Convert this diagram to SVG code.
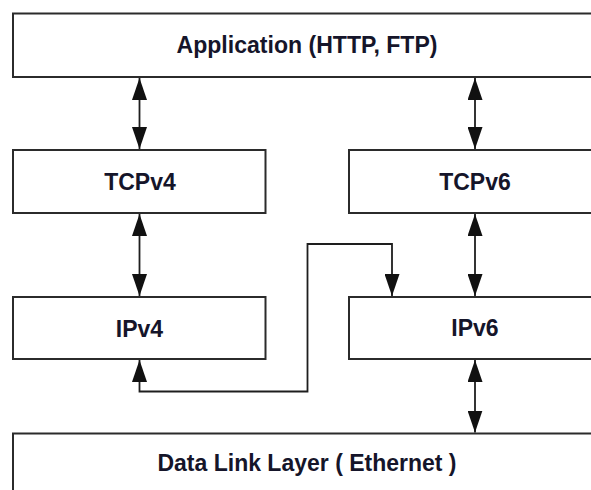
<svg xmlns="http://www.w3.org/2000/svg" width="591" height="490" viewBox="0 0 591 490">
  <defs>
    <style>
      .box { fill: #ffffff; stroke: #2b2b2b; stroke-width: 2; }
      .label { font-family: "Liberation Sans", Arial, sans-serif; font-weight: bold; font-size: 23px; fill: #15152a; text-anchor: middle; }
      .link { fill: none; stroke: #1e1e1e; stroke-width: 1.8; }
    </style>
    <marker id="arrow" viewBox="0 0 22 15" refX="22" refY="7.5" markerWidth="22" markerHeight="15" markerUnits="userSpaceOnUse" orient="auto-start-reverse">
      <path d="M0,0 L22,7.5 L0,15 z" fill="#111111"/>
    </marker>
  </defs>

  <rect width="591" height="490" fill="#ffffff"/>

  <!-- Layer boxes -->
  <g id="application">
    <rect class="box" x="13" y="13.5" width="600" height="63.5"/>
    <text class="label" x="307" y="53" textLength="261" lengthAdjust="spacingAndGlyphs">Application (HTTP, FTP)</text>
  </g>
  <g id="tcpv4">
    <rect class="box" x="13" y="150" width="252.5" height="63"/>
    <text class="label" x="140" y="189.5">TCPv4</text>
  </g>
  <g id="tcpv6">
    <rect class="box" x="349" y="150" width="260" height="63"/>
    <text class="label" x="475" y="189.5">TCPv6</text>
  </g>
  <g id="ipv4">
    <rect class="box" x="13" y="297" width="252.5" height="62"/>
    <text class="label" x="139.5" y="337">IPv4</text>
  </g>
  <g id="ipv6">
    <rect class="box" x="349" y="297" width="260" height="62"/>
    <text class="label" x="475" y="336">IPv6</text>
  </g>
  <g id="datalink">
    <rect class="box" x="13" y="433.5" width="600" height="80"/>
    <text class="label" x="307" y="471">Data Link Layer ( Ethernet )</text>
  </g>

  <!-- Connectors -->
  <g id="connectors">
    <path class="link" d="M139.5,78 L139.5,149" marker-start="url(#arrow)" marker-end="url(#arrow)"/>
    <path class="link" d="M475,78 L475,149" marker-start="url(#arrow)" marker-end="url(#arrow)"/>
    <path class="link" d="M139.5,214 L139.5,296" marker-start="url(#arrow)" marker-end="url(#arrow)"/>
    <path class="link" d="M475,214 L475,296" marker-start="url(#arrow)" marker-end="url(#arrow)"/>
    <path class="link" d="M475,360 L475,432.5" marker-start="url(#arrow)" marker-end="url(#arrow)"/>
    <path class="link" d="M139.5,360 L139.5,391.5 L307.5,391.5 L307.5,244 L392,244 L392,296" marker-start="url(#arrow)" marker-end="url(#arrow)"/>
  </g>
</svg>
